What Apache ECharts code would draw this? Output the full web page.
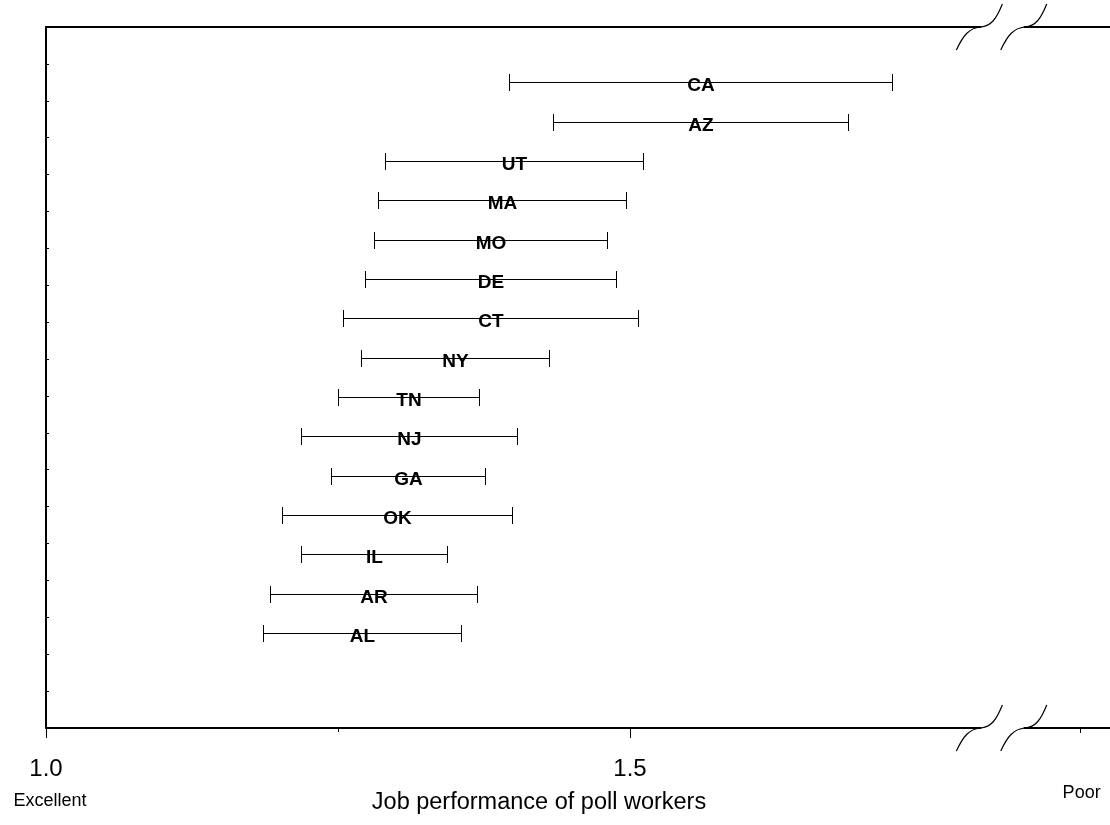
<!DOCTYPE html>
<html>
<head>
<meta charset="utf-8">
<script src="https://cdn.jsdelivr.net/npm/echarts@6/dist/echarts.min.js"></script>
<style>
  html, body { margin: 0; padding: 0; background: #fff; }
  #chart { width: 1110px; height: 825px; }
</style>
</head>
<body>
<div id="chart"></div>
<script>
// States, top to bottom, with the low and high end of each interval
const states = ['CA', 'AZ', 'UT', 'MA', 'MO', 'DE', 'CT', 'NY', 'TN', 'NJ', 'GA', 'OK', 'IL', 'AR', 'AL'];
const lowValues = [1.396, 1.434, 1.290, 1.284, 1.281, 1.273, 1.254, 1.270, 1.250, 1.218, 1.244, 1.202, 1.218, 1.192, 1.186];
const highValues = [1.724, 1.687, 1.511, 1.497, 1.480, 1.488, 1.507, 1.431, 1.371, 1.403, 1.376, 1.399, 1.343, 1.369, 1.355];
const tickLabels = ['1.0', '1.5'];
const endLabels = ['Excellent', 'Poor'];
const axisTitle = 'Job performance of poll workers';

const X_MIN = 1.0;
const X_MAX = 1.911;
const X_STEP = 0.5;
const MINOR_TICK = 1.25;
const BREAK_FROM = 1.8;     // scale is broken between these two values
const BREAK_TO = 1.838;
const POOR_TICK = 1.885;    // tick under the "Poor" end of the scale

const FONT = '"Liberation Sans", Arial, Helvetica, sans-serif';
const chart = echarts.init(document.getElementById('chart'), null, { renderer: 'canvas' });

const frameGrid = { left: 46, right: -2, top: 27, bottom: 97 };
const barGrid = { left: 46, right: -2, top: 62.6, bottom: 172.3 };

chart.setOption({
  animation: false,
  backgroundColor: '#fff',
  grid: [frameGrid, barGrid],
  xAxis: [
    {
      gridIndex: 0, type: 'value', position: 'bottom',
      min: X_MIN, max: X_MAX, interval: X_STEP,
      axisLine: { lineStyle: { color: '#000', width: 2 } },
      axisTick: { length: 10, lineStyle: { color: '#000', width: 1 } },
      axisLabel: {
        color: '#000', fontSize: 24, fontFamily: FONT, margin: 29,
        showMaxLabel: false,
        formatter: v => tickLabels[Math.round((v - X_MIN) / X_STEP)] || ''
      },
      splitLine: { show: false }
    },
    {
      gridIndex: 0, type: 'value', position: 'top',
      min: X_MIN, max: X_MAX,
      axisLine: { lineStyle: { color: '#000', width: 2 } },
      axisTick: { show: false }, axisLabel: { show: false }, splitLine: { show: false }
    },
    {
      gridIndex: 1, type: 'value', min: X_MIN, max: X_MAX, show: false
    }
  ],
  yAxis: [
    {
      gridIndex: 0, type: 'value', min: 0, max: 19, interval: 1,
      axisLine: { show: true, lineStyle: { color: '#000', width: 2 } },
      axisTick: { show: true, inside: true, length: 3, lineStyle: { color: '#000', width: 1 } },
      axisLabel: { show: false }, splitLine: { show: false }
    },
    {
      gridIndex: 1, type: 'category', data: states, inverse: true, show: false
    }
  ],
  series: [{
    type: 'custom',
    xAxisIndex: 2, yAxisIndex: 1,
    encode: { x: [0, 1], y: 2 },
    data: states.map((s, i) => [lowValues[i], highValues[i], i]),
    renderItem(params, api) {
      const lo = api.coord([api.value(0), api.value(2)]);
      const hi = api.coord([api.value(1), api.value(2)]);
      const y = Math.round(lo[1]) + 0.5;
      const x1 = Math.round(lo[0]) + 0.5;
      const x2 = Math.round(hi[0]) + 0.5;
      const cap = 8.5;
      const st = { stroke: '#000', lineWidth: 1 };
      return {
        type: 'group',
        children: [
          { type: 'line', shape: { x1: x1, y1: y, x2: x2, y2: y }, style: st },
          { type: 'line', shape: { x1: x1, y1: y - cap, x2: x1, y2: y + cap }, style: st },
          { type: 'line', shape: { x1: x2, y1: y - cap, x2: x2, y2: y + cap }, style: st },
          {
            type: 'text',
            style: {
              text: states[params.dataIndex],
              x: (x1 + x2) / 2, y: y + 3,
              align: 'center', verticalAlign: 'middle',
              font: 'bold 19px ' + FONT, fill: '#000'
            }
          }
        ]
      };
    }
  }]
});

// Axis decorations: scale break marks, minor ticks and the end labels
function px(v) { return chart.convertToPixel({ xAxisIndex: 0 }, v); }
const topY = chart.convertToPixel({ yAxisIndex: 0 }, 19);
const botY = chart.convertToPixel({ yAxisIndex: 0 }, 0);
const bx1 = px(BREAK_FROM), bx2 = px(BREAK_TO);
const curveStyle = { stroke: '#000', lineWidth: 1.2, fill: null };

// One S-shaped break mark: two cubic halves meeting flat on the axis line
function sCurve(cx, cy) {
  return [
    {
      type: 'bezierCurve', z: 20,
      shape: { x1: cx - 24, y1: cy + 23, cpx1: cx - 17, cpy1: cy + 8, cpx2: cx - 11, cpy2: cy + 1, x2: cx, y2: cy },
      style: curveStyle
    },
    {
      type: 'bezierCurve', z: 20,
      shape: { x1: cx, y1: cy, cpx1: cx + 11, cpy1: cy - 1, cpx2: cx + 16, cpy2: cy - 8, x2: cx + 22, y2: cy - 23 },
      style: curveStyle
    }
  ];
}
function gap(cy) {
  return { type: 'rect', z: 19, shape: { x: bx1 + 1, y: cy - 3, width: bx2 - bx1 - 2, height: 6 }, style: { fill: '#fff' } };
}
function tick(x, len) {
  const xx = Math.round(x) + 0.5;
  return { type: 'line', z: 20, shape: { x1: xx, y1: botY, x2: xx, y2: botY + len }, style: { stroke: '#000', lineWidth: 1 } };
}

chart.setOption({
  graphic: [
    gap(topY), gap(botY),
    ...sCurve(bx1, topY), ...sCurve(bx2, topY),
    ...sCurve(bx1, botY), ...sCurve(bx2, botY),
    tick(px(MINOR_TICK), 4),
    tick(px(POOR_TICK), 5),
    {
      type: 'text', z: 20,
      style: { text: endLabels[0], x: px(X_MIN) + 4, y: 801, align: 'center', verticalAlign: 'middle', font: '18px ' + FONT, fill: '#000' }
    },
    {
      type: 'text', z: 20,
      style: { text: endLabels[1], x: px(POOR_TICK) + 2, y: 793, align: 'center', verticalAlign: 'middle', font: '18px ' + FONT, fill: '#000' }
    },
    {
      type: 'text', z: 20,
      style: { text: axisTitle, x: 539, y: 803, align: 'center', verticalAlign: 'middle', font: '23.5px ' + FONT, fill: '#000' }
    }
  ]
});
</script>
</body>
</html>
